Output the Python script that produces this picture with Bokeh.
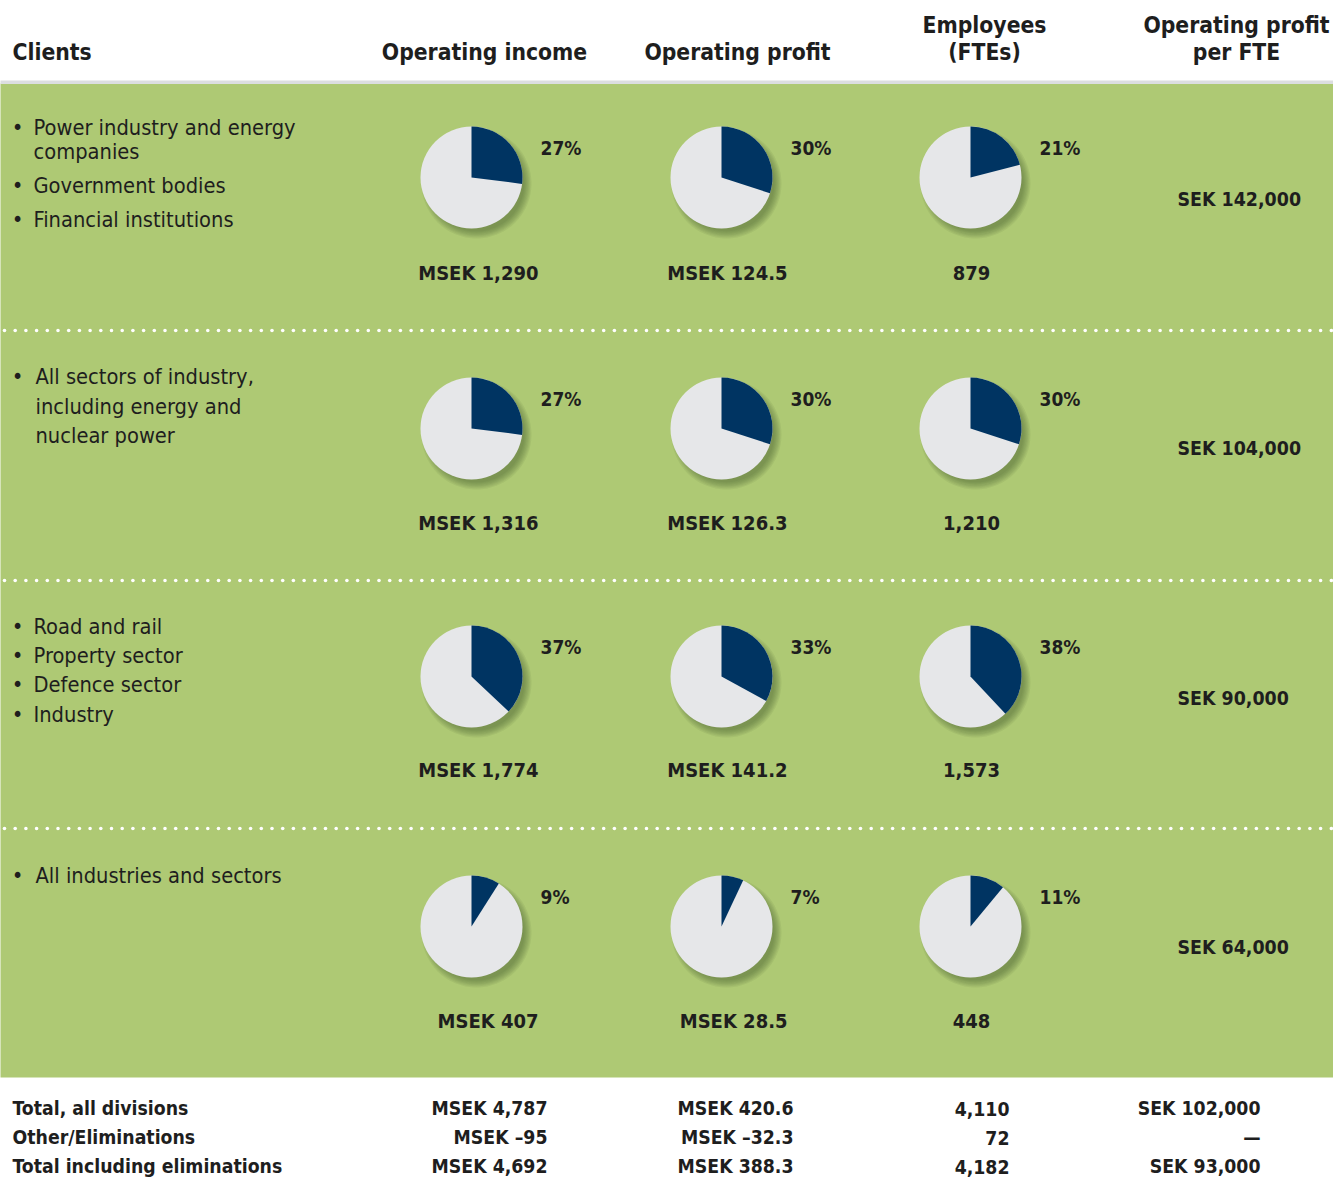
import math
import numpy as np
from bokeh.plotting import figure
from bokeh.models import Range1d
from bokeh.core.properties import value
from bokeh.embed import file_html
from bokeh.resources import INLINE

# ---------------- data ----------------
headers = ["Clients", "Operating income", "Operating profit", "Employees\n(FTEs)", "Operating profit\nper FTE"]
client_items = [
    ["Power industry and energy\ncompanies", "Government bodies", "Financial institutions"],
    ["All sectors of industry,\nincluding energy and\nnuclear power"],
    ["Road and rail", "Property sector", "Defence sector", "Industry"],
    ["All industries and sectors"],
]
income_pct = [27, 27, 37, 9]
profit_pct = [30, 30, 33, 7]
fte_pct = [21, 30, 38, 11]
income_labels = ["MSEK 1,290", "MSEK 1,316", "MSEK 1,774", "MSEK 407"]
profit_labels = ["MSEK 124.5", "MSEK 126.3", "MSEK 141.2", "MSEK 28.5"]
fte_labels = ["879", "1,210", "1,573", "448"]
per_fte_labels = ["SEK 142,000", "SEK 104,000", "SEK 90,000", "SEK 64,000"]
total_names = ["Total, all divisions", "Other/Eliminations", "Total including eliminations"]
total_income = ["MSEK 4,787", "MSEK \u201395", "MSEK 4,692"]
total_profit = ["MSEK 420.6", "MSEK \u201332.3", "MSEK 388.3"]
total_fte = ["4,110", "72", "4,182"]
total_per_fte = ["SEK 102,000", "\u2014", "SEK 93,000"]

# ---------------- layout ----------------
W, H = 1333, 1177
FONT = "'DejaVu Sans Condensed', 'Liberation Sans Narrow', sans-serif"
GREEN = "#aec974"
NAVY = "#003462"
LIGHT = "#e6e7e9"
INK = "#1e1e1e"

def Y(py):
    return H - py

p = figure(width=W, height=H, x_range=Range1d(0, W), y_range=Range1d(0, H),
           output_backend="svg", toolbar_location=None, min_border=0,
           background_fill_color="white", border_fill_color="white")
p.axis.visible = False
p.grid.visible = False
p.outline_line_color = None

# green panel + header rule
p.quad(left=-5, right=W + 5, top=Y(83), bottom=Y(1077), fill_color=GREEN, line_color=None)
p.quad(left=-5, right=W + 5, top=Y(80), bottom=Y(83.5), fill_color="#dcdee0", line_color=None)

# dotted separators
for sy in [330, 580, 828]:
    xs = np.arange(4, W, 10.7)
    p.scatter(x=xs, y=[Y(sy)] * len(xs), size=3.6, fill_color="white", line_color=None)

# headers
hdr_x = [12, 484, 737, 984, 1236]
hdr_align = ["left", "center", "center", "center", "center"]
for h, hx, al in zip(headers, hdr_x, hdr_align):
    lines = h.split("\n")
    ys = [51] if len(lines) == 1 else [24, 51]
    for ln, yy in zip(lines, ys):
        p.text(x=[hx], y=[Y(yy)], text=[ln], text_font=value(FONT), text_font_style="bold",
               text_font_size="22.7px", text_align=al, text_baseline="middle", text_color=INK)

# client lists
row_line_y = [
    [[127, 151], [185], [219]],
    [[376, 406, 435]],
    [[626], [655], [684], [714]],
    [[875]],
]
text_x = [33, 35, 33, 35]
for items, ylist, tx in zip(client_items, row_line_y, text_x):
    for item, ys in zip(items, ylist):
        lines = item.split("\n")
        p.text(x=[17], y=[Y(ys[0])], text=["\u2022"], text_font=value(FONT),
               text_font_size="22px", text_align="center", text_baseline="middle", text_color=INK)
        for ln, yy in zip(lines, ys):
            p.text(x=[tx], y=[Y(yy)], text=[ln], text_font=value(FONT),
                   text_font_size="21.7px", text_align="left", text_baseline="middle", text_color=INK)

# pies
row_cy = [177, 428, 676, 926]
row_val_y = [272, 522, 769, 1020]
col_cx = [471, 721, 970]
R = 51
pct_cols = [income_pct, profit_pct, fte_pct]
lab_cols = [income_labels, profit_labels, fte_labels]
lab_x = [538, 787, 971]
lab_align = ["right", "right", "center"]

for ci, (pcts, labs) in enumerate(zip(pct_cols, lab_cols)):
    cx = col_cx[ci]
    for ri, (pc, lab) in enumerate(zip(pcts, labs)):
        cy = Y(row_cy[ri])
        # soft shadow
        for k in range(7):
            p.circle(x=[cx + 5], y=[cy - 6], radius=R + 4 - k * 1.2,
                     fill_color="#46622a", fill_alpha=0.085, line_color=None)
        p.circle(x=[cx], y=[cy], radius=R, fill_color=LIGHT, line_color=None)
        a = 2 * math.pi * pc / 100.0
        p.wedge(x=[cx], y=[cy], radius=R, start_angle=math.pi / 2 - a, end_angle=math.pi / 2,
                direction="anticlock", fill_color=NAVY, line_color=None)
        p.text(x=[cx + 69], y=[cy + 30], text=[f"{pc}%"], text_font=value(FONT),
               text_font_style="bold", text_font_size="19px", text_align="left",
               text_baseline="middle", text_color=INK)
        p.text(x=[lab_x[ci]], y=[Y(row_val_y[ri])], text=[lab], text_font=value(FONT),
               text_font_style="bold", text_font_size="20px", text_align=lab_align[ci],
               text_baseline="middle", text_color=INK)

per_y = [199, 448, 698, 947]
for lab, yy in zip(per_fte_labels, per_y):
    p.text(x=[1177], y=[Y(yy)], text=[lab], text_font=value(FONT), text_font_style="bold",
           text_font_size="19.4px", text_align="left", text_baseline="middle", text_color=INK)

# totals table
tot_y = [1108, 1137, 1166]
cols = [(total_names, 12, "left"), (total_income, 547, "right"), (total_profit, 793, "right"),
        (total_fte, 1009, "right"), (total_per_fte, 1260, "right")]
for vals, tx, al in cols:
    for v, yy in zip(vals, tot_y):
        p.text(x=[tx], y=[Y(yy)], text=[v], text_font=value(FONT), text_font_style="bold",
               text_font_size="19.3px", text_align=al, text_baseline="middle", text_color=INK)

open("out.html", "w").write(file_html(p, INLINE))
